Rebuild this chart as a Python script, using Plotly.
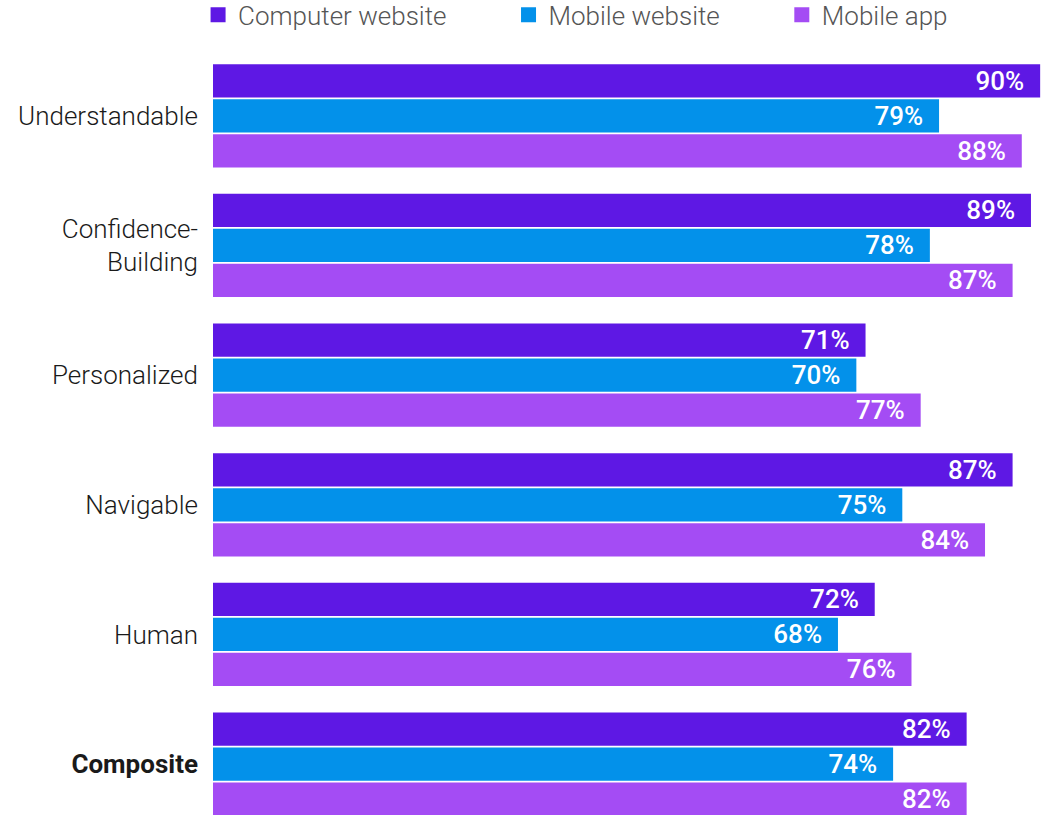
import plotly.graph_objects as go

categories = ["Understandable", "Confidence-<br>Building", "Personalized", "Navigable", "Human", "<b>Composite</b>"]
series_names = ["Computer website", "Mobile website", "Mobile app"]
computer_website = [90, 89, 71, 87, 72, 82]
mobile_website = [79, 78, 70, 75, 68, 74]
mobile_app = [88, 87, 77, 84, 76, 82]
colors = ["#5E18E4", "#0391EA", "#A44CF4"]
legend_pad = "\u00a0" * 9

fig = go.Figure()
for name, vals, col in zip(series_names, [computer_website, mobile_website, mobile_app], colors):
    fig.add_trace(go.Bar(
        y=categories, x=vals, name=name, orientation="h", showlegend=False,
        marker=dict(color=col, line=dict(width=0)),
        texttemplate="%{x}%\u00a0\u00a0", textposition="inside", insidetextanchor="end",
        constraintext="none",
        textfont=dict(family="Roboto", size=26, color="white", weight=500),
        cliponaxis=False,
    ))
# legend entries with larger square symbols
for i, (name, col) in enumerate(zip(series_names, colors)):
    fig.add_trace(go.Scatter(
        x=[None], y=[None], mode="markers", name=name + (legend_pad if i < 2 else ""),
        marker=dict(symbol="square", size=15, color=col), showlegend=True,
    ))

fig.update_layout(
    width=1042, height=815,
    margin=dict(l=213, r=0, t=50.5, b=0, pad=0, autoexpand=False),
    paper_bgcolor="white", plot_bgcolor="white",
    barmode="group", bargap=0.19, bargroupgap=0.05,
    font=dict(family="Roboto", color="#222222"),
    showlegend=True,
    legend=dict(orientation="h", x=-0.018, xanchor="left", y=1.078, yanchor="top",
                font=dict(family="Roboto", size=26, color="#555555", weight=300),
                traceorder="normal", itemclick=False, itemdoubleclick=False),
    xaxis=dict(range=[0, 90.2], visible=False, showgrid=False, zeroline=False),
    yaxis=dict(type="category", range=[5.393, -0.5], showgrid=False, zeroline=False,
               showline=False, ticks="", ticklabelstandoff=14,
               tickfont=dict(family="Roboto", size=26, color="#1a1a1a", weight=300)),
)

fig.write_html("out.html")
